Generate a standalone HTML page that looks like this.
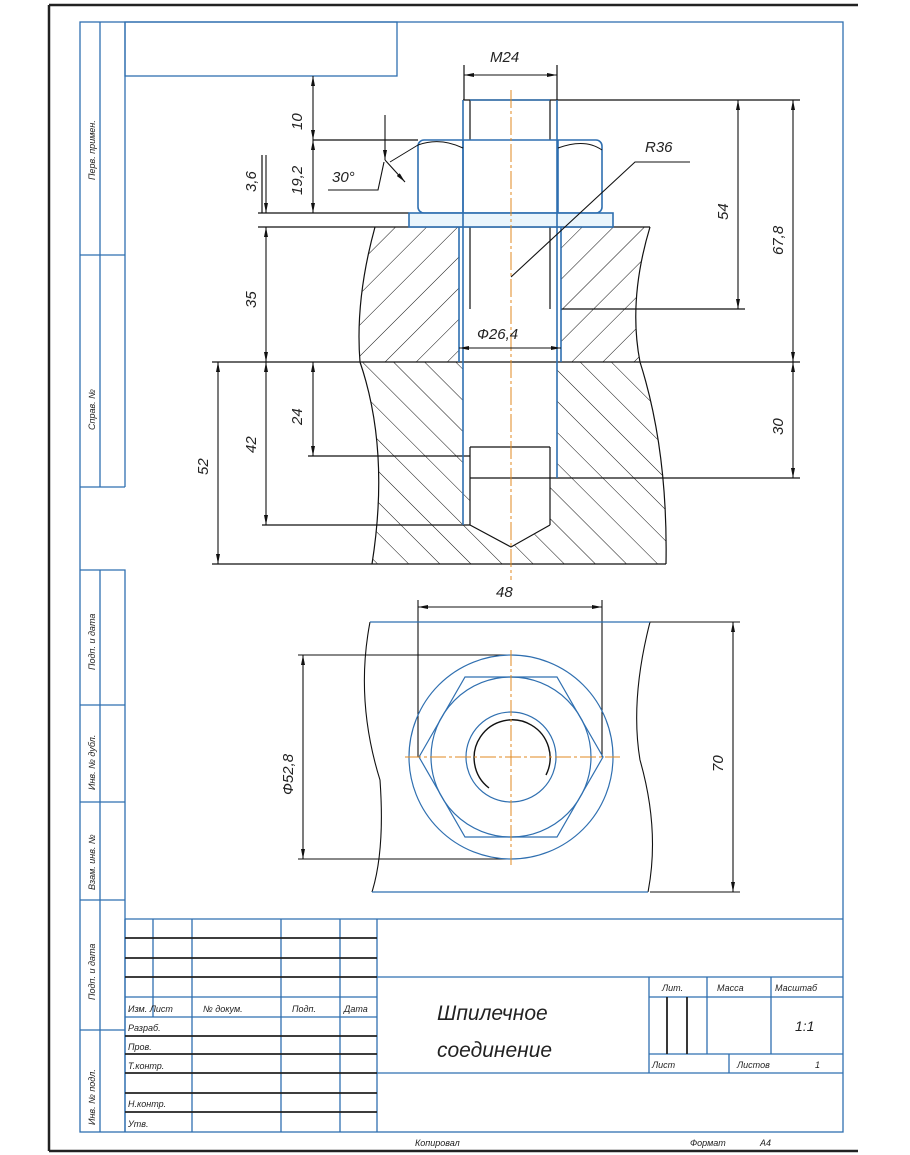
<!DOCTYPE html>
<html><head><meta charset="utf-8"><style>
html,body{margin:0;padding:0;background:#fff;}
svg{display:block}
text{font-family:"Liberation Sans",sans-serif;font-style:italic;fill:#222;}
</style></head><body>
<svg width="910" height="1155" viewBox="0 0 910 1155" xmlns="http://www.w3.org/2000/svg">
<defs>
<pattern id="h1" patternUnits="userSpaceOnUse" width="22" height="22" patternTransform="rotate(45)"><line x1="0" y1="0" x2="0" y2="22" stroke="#111" stroke-width="1"/></pattern>
<pattern id="h2" patternUnits="userSpaceOnUse" width="22" height="22" patternTransform="rotate(-45)"><line x1="0" y1="0" x2="0" y2="22" stroke="#111" stroke-width="1"/></pattern>
<marker id="a" viewBox="0 0 10 4" refX="10" refY="2" markerWidth="10" markerHeight="4" orient="auto-start-reverse" markerUnits="userSpaceOnUse"><path d="M0,0 L10,2 L0,4z" fill="#111"/></marker>
</defs>
<rect width="910" height="1155" fill="#fff"/>
<!-- outer black border -->
<path d="M49,5 H858 M49,5 V1151 M49,1151 H858" stroke="#222" stroke-width="2.5" fill="none"/>
<g stroke="#2f6fb0" stroke-width="1.3" fill="none">
<rect x="80" y="22" width="763" height="1110"/>
<path d="M100,22 V487 M80,255 H125 M80,487 H125 M125,22 V487"/>
<path d="M80,570 H125 V1132 M100,570 V1132 M80,705 H125 M80,802 H125 M80,900 H125 M80,1030 H125"/>
<rect x="125" y="22" width="272" height="54"/>
<!-- title block -->
<path d="M125,919 H843 M125,919 V1132 M377,919 V1132 M153,919 V1017 M192,919 V1132 M281,919 V1132 M340,919 V1132"/>
<path d="M377,977 H843 M649,977 V1073 M649,997 H843 M707,977 V1054 M771,977 V1054 M649,1054 H843 M729,1054 V1073 M377,1073 H843 M125,1017 H377 M125,997 H377"/>
</g>
<g stroke="#222" stroke-width="1.8">
<path d="M125,938 H377 M125,958 H377 M125,977 H377 M125,1036 H377 M125,1054 H377 M125,1093 H377 M125,1112 H377 M125,1073 H377 M667,997 V1054 M687,997 V1054"/>
</g>
<g font-size="9">
<text x="128" y="1012">Изм. Лист</text><text x="203" y="1012">№ докум.</text><text x="292" y="1012">Подп.</text><text x="344" y="1012">Дата</text>
<text x="128" y="1031">Разраб.</text><text x="128" y="1050">Пров.</text><text x="128" y="1069">Т.контр.</text>
<text x="128" y="1107">Н.контр.</text><text x="128" y="1127">Утв.</text>
<text x="662" y="991">Лит.</text><text x="717" y="991">Масса</text><text x="775" y="991">Масштаб</text>
<text x="652" y="1068">Лист</text><text x="737" y="1068">Листов</text><text x="815" y="1068">1</text>
<text x="415" y="1146">Копировал</text><text x="690" y="1146">Формат</text><text x="760" y="1146">А4</text>
</g>
<text x="795" y="1031" font-size="14">1:1</text>
<text x="437" y="1020" font-size="21">Шпилечное</text>
<text x="437" y="1057" font-size="21">соединение</text>
<g font-size="9">
<text transform="translate(95,180) rotate(-90)">Перв. примен.</text>
<text transform="translate(95,430) rotate(-90)">Справ. №</text>
<text transform="translate(95,670) rotate(-90)">Подп. и дата</text>
<text transform="translate(95,790) rotate(-90)">Инв. № дубл.</text>
<text transform="translate(95,890) rotate(-90)">Взам. инв. №</text>
<text transform="translate(95,1000) rotate(-90)">Подп. и дата</text>
<text transform="translate(95,1125) rotate(-90)">Инв. № подл.</text>
</g>
<!-- hatched plates -->
<path d="M375,227 H650 Q628,300 640,362 H360 Q355,300 375,227Z" fill="url(#h1)"/>
<path d="M361,362 H641 Q668,450 666,564 H372 Q390,450 361,362Z" fill="url(#h2)"/>
<rect x="459" y="227" width="102" height="135" fill="#fff"/>
<rect x="463" y="362" width="94" height="116" fill="#fff"/>
<path d="M470,478 H550 V525 L511,547 L470,525Z" fill="#fff"/>
<g stroke="#111" stroke-width="1.2" fill="none">
<path d="M375,227 Q355,300 360,362 Q390,450 372,564 M650,227 Q628,300 640,362 Q668,450 666,564"/>
<path d="M258,213 H409 M258,227 H650 M212,362 H800 M463,100 H800 M313,140 H418 M308,456 H470 M262,525 H470 M212,564 H666 M561,309 H745 M557,478 H800"/>
<path d="M464,65 V100 M557,65 V100 M262,155 V213"/>
<path d="M470,100 V140 M550,100 V140 M470,227 V309 M550,227 V309 M470,447 V525 M550,447 V525 M470,525 L511,547 L550,525 M470,447 H550 M470,478 H557"/>
</g>
<!-- blue part outlines -->
<g stroke="#2f6fb0" stroke-width="1.6" fill="none">
<rect x="418" y="140" width="184" height="73" rx="6"/>
<path d="M463,140 V213 M558,140 V213"/>
<rect x="409" y="213" width="204" height="14" fill="#dceefa" fill-opacity="0.6"/>
<path d="M463,100 V525 M557,100 V478 M459,227 V362 M561,227 V362 M470,100 H550"/>
</g>
<path d="M418,145 Q440,137 463,148 M558,148 Q585,138 602,150 M390,162 L418,145" stroke="#111" stroke-width="1" fill="none"/>
<!-- centerline -->
<path d="M511,90 V580" stroke="#e08a20" stroke-width="1" stroke-dasharray="18,3,3,3" fill="none"/>
<!-- dimensions -->
<g stroke="#111" stroke-width="1.1" fill="none">
<line x1="464" y1="75" x2="557" y2="75" marker-start="url(#a)" marker-end="url(#a)"/>
<line x1="313" y1="76" x2="313" y2="140" marker-start="url(#a)" marker-end="url(#a)"/>
<line x1="313" y1="140" x2="313" y2="213" marker-start="url(#a)" marker-end="url(#a)"/>
<line x1="266" y1="155" x2="266" y2="213" marker-end="url(#a)"/>
<line x1="266" y1="227" x2="266" y2="362" marker-start="url(#a)" marker-end="url(#a)"/>
<line x1="266" y1="362" x2="266" y2="525" marker-start="url(#a)" marker-end="url(#a)"/>
<line x1="218" y1="362" x2="218" y2="564" marker-start="url(#a)" marker-end="url(#a)"/>
<line x1="313" y1="362" x2="313" y2="456" marker-start="url(#a)" marker-end="url(#a)"/>
<line x1="738" y1="100" x2="738" y2="309" marker-start="url(#a)" marker-end="url(#a)"/>
<line x1="793" y1="100" x2="793" y2="362" marker-start="url(#a)" marker-end="url(#a)"/>
<line x1="793" y1="362" x2="793" y2="478" marker-start="url(#a)" marker-end="url(#a)"/>
<line x1="459" y1="348" x2="561" y2="348" marker-start="url(#a)" marker-end="url(#a)"/>
<path d="M511,277 L635,162 H690"/>
<line x1="385" y1="115" x2="385" y2="160" marker-end="url(#a)"/>
<line x1="385" y1="160" x2="405" y2="182" marker-end="url(#a)"/>
<path d="M328,190 H378 L384,162"/>
</g>
<g font-size="15">
<text x="490" y="62">M24</text>
<text x="645" y="152">R36</text>
<text x="332" y="182">30°</text>
<text x="477" y="339">Ф26,4</text>
<text x="496" y="597">48</text>
<text transform="translate(302,130) rotate(-90)">10</text>
<text transform="translate(302,195) rotate(-90)">19,2</text>
<text transform="translate(256,192) rotate(-90)">3,6</text>
<text transform="translate(256,308) rotate(-90)">35</text>
<text transform="translate(256,453) rotate(-90)">42</text>
<text transform="translate(208,475) rotate(-90)">52</text>
<text transform="translate(302,425) rotate(-90)">24</text>
<text transform="translate(728,220) rotate(-90)">54</text>
<text transform="translate(783,255) rotate(-90)">67,8</text>
<text transform="translate(783,435) rotate(-90)">30</text>
<text transform="translate(293,795) rotate(-90)">Ф52,8</text>
<text transform="translate(723,772) rotate(-90)">70</text>
</g>
<!-- plan view -->
<g stroke="#111" stroke-width="1.1" fill="none">
<path d="M370,622 Q355,700 380,780 Q385,850 372,892 M650,622 Q630,700 640,760 Q660,830 648,892"/>
<path d="M418,600 V757 M602,600 V757 M298,655 H511 M298,859 H511 M650,622 H740 M650,892 H740"/>
<line x1="418" y1="607" x2="602" y2="607" marker-start="url(#a)" marker-end="url(#a)"/>
<line x1="303" y1="655" x2="303" y2="859" marker-start="url(#a)" marker-end="url(#a)"/>
<line x1="733" y1="622" x2="733" y2="892" marker-start="url(#a)" marker-end="url(#a)"/>
<path d="M489,788 A38,38 0 1 1 546,775" stroke-width="1.4"/>
</g>
<g stroke="#2f6fb0" stroke-width="1.2" fill="none">
<path d="M370,622 H650 M372,892 H648"/>
<circle cx="511" cy="757" r="102"/>
<circle cx="511" cy="757" r="80"/>
<path d="M419,757 L465,677 L557,677 L603,757 L557,837 L465,837Z"/>
<circle cx="511" cy="757" r="45"/>
</g>
<path d="M405,757 H620 M511,650 V865" stroke="#e08a20" stroke-width="1" stroke-dasharray="16,3,3,3"/>
</svg>
</body></html>
